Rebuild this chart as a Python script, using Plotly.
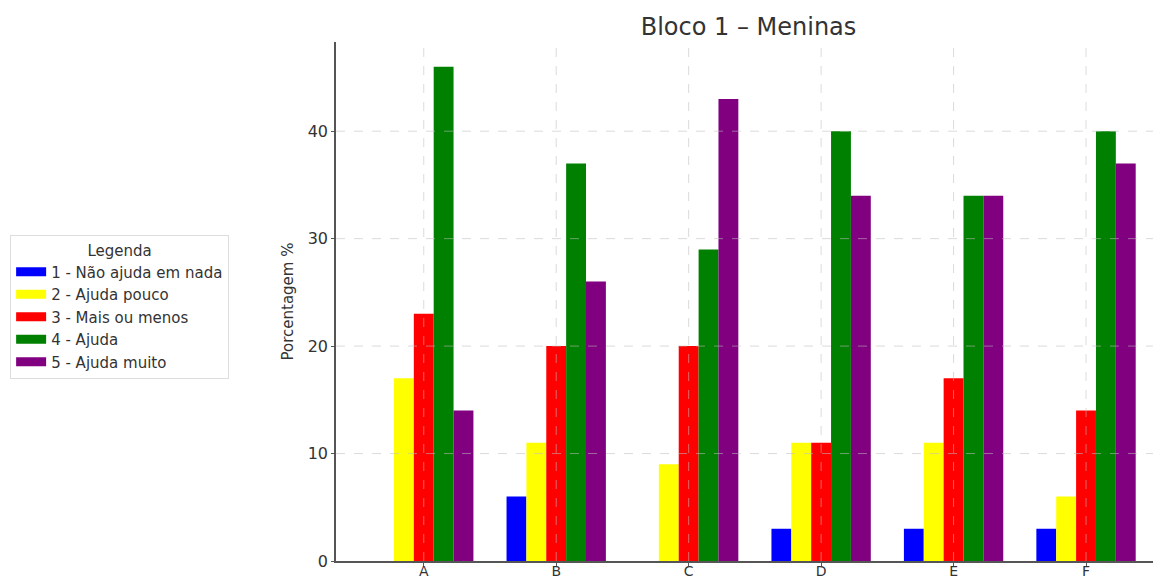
import plotly.graph_objects as go

categories = ["A", "B", "C", "D", "E", "F"]
series_names = ["1 - Não ajuda em nada", "2 - Ajuda pouco", "3 - Mais ou menos", "4 - Ajuda", "5 - Ajuda muito"]
s1 = [0, 6, 0, 3, 3, 3]
s2 = [17, 11, 9, 11, 11, 6]
s3 = [23, 20, 20, 11, 17, 14]
s4 = [46, 37, 29, 40, 34, 40]
s5 = [14, 26, 43, 34, 34, 37]
y_ticks = [0, 10, 20, 30, 40]
colors = ["#0000ff", "#ffff00", "#ff0000", "#008000", "#800080"]

xpos = list(range(len(categories)))
fig = go.Figure()
for name, vals, c in zip(series_names, [s1, s2, s3, s4, s5], colors):
    fig.add_trace(go.Bar(x=xpos, y=vals, name=name, showlegend=False,
                         marker=dict(color=c, line=dict(width=0))))
# legend entries drawn as wide rectangular swatches
for name, c in zip(series_names, colors):
    fig.add_trace(go.Scatter(x=[None], y=[None], mode="lines", name=name,
                             line=dict(color=c, width=9)))

# gridlines drawn above the bars, as in the reference
grid = dict(color="rgba(190,190,190,0.55)", width=1, dash="dash")
for xv in xpos:
    fig.add_shape(type="line", x0=xv, x1=xv, y0=0, y1=1, xref="x", yref="paper",
                  line=grid, layer="above")
for yv in y_ticks[1:]:
    fig.add_shape(type="line", x0=0, x1=1, y0=yv, y1=yv, xref="paper", yref="y",
                  line=grid, layer="above")

font = "DejaVu Sans, sans-serif"
# the page body adds an 8px offset, so the figure is 8px smaller than the window
fig.update_layout(
    width=1153, height=571,
    margin=dict(l=328, r=0, t=34, b=18, autoexpand=False),
    paper_bgcolor="white", plot_bgcolor="white",
    font=dict(family=font, size=14, color="#333333"),
    title=dict(text="Bloco 1 – Meninas", x=0.5, xref="paper", xanchor="center",
               y=0.968, yanchor="middle", font=dict(size=24, color="#333333")),
    barmode="group", bargap=0.25, bargroupgap=0,
    legend=dict(x=-0.395, xanchor="left", y=0.628, yanchor="top",
                bordercolor="#dddddd", borderwidth=1, bgcolor="white",
                font=dict(size=15, color="#333333"),
                title=dict(text="Legenda", side="top center", font=dict(size=15)),
                tracegroupgap=0),
    showlegend=True,
)
fig.update_xaxes(
    tickmode="array", tickvals=xpos, ticktext=categories,
    range=[-0.6625, 5.566], showline=True, linecolor="#555555", linewidth=1.5,
    ticks="outside", ticklen=3, tickcolor="#555555", ticklabelstandoff=-7,
    showgrid=False, zeroline=False, tickfont=dict(size=14, color="#333333"),
)
fig.update_yaxes(
    range=[0, 48.3], tickvals=y_ticks, showline=True, linecolor="#555555",
    linewidth=1.5, ticks="outside", ticklen=3, tickcolor="#555555",
    showgrid=False, zeroline=False, tickfont=dict(size=16, color="#333333"),
    title=dict(text="Porcentagem %", font=dict(size=15, color="#333333"), standoff=10),
)
fig.write_html("out.html")
